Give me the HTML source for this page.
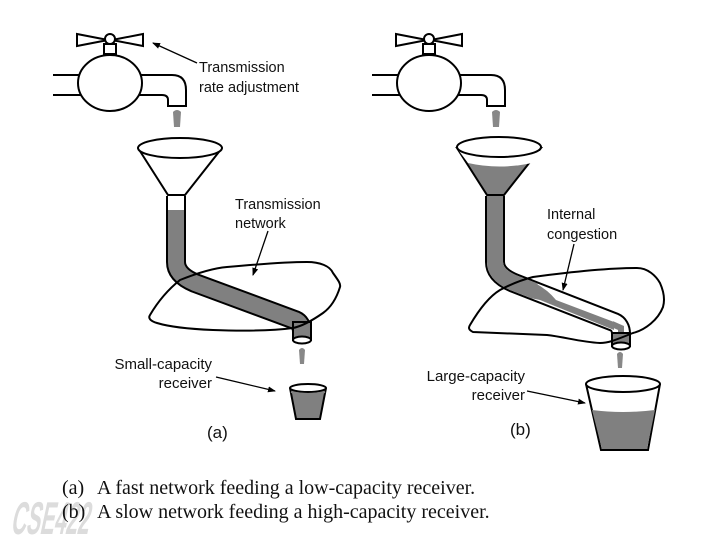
<!DOCTYPE html>
<html><head><meta charset="utf-8"><style>
html,body{margin:0;padding:0;background:#fff;}
svg{display:block;}
.l{font-family:"Liberation Sans",sans-serif;font-size:14.5px;fill:#111;}
.c{font-family:"Liberation Serif",serif;font-size:20px;fill:#111;}
</style></head><body>
<svg width="720" height="540" viewBox="0 0 720 540" xmlns="http://www.w3.org/2000/svg">
<defs>
<marker id="ah" markerWidth="8" markerHeight="8" refX="7" refY="4" orient="auto" markerUnits="userSpaceOnUse"><path d="M0,1 L8,4 L0,7 z" fill="#000"/></marker>
<g id="faucet" stroke="#000" stroke-width="2" fill="#fff">
<path d="M77,34 L77,46 L108,40 Z M143,34 L143,46 L112,40 Z"/>
<rect x="104" y="44" width="12" height="10"/>
<circle cx="110" cy="39" r="5"/>
<path d="M53,75 L90,75 M53,95 L90,95 M130,75 L172,75 Q186,75 186,90 L186,106 L168,106 L168,100 Q168,95 162,95 L130,95" fill="none"/>
<ellipse cx="110" cy="83" rx="32" ry="28"/>
<path d="M173,112 Q177,108 181,112 L180,127 L174,127 Z" fill="#888" stroke="none"/>
</g>
</defs>

<!-- LEFT -->
<use href="#faucet"/>
<path d="M176,196 L176,262 Q176,275 195,283 L295,320 Q302,323 302,332" fill="none" stroke="#000" stroke-width="20"/>
<path d="M176,196 L176,262 Q176,275 195,283 L295,320 Q302,323 302,332" fill="none" stroke="#808080" stroke-width="16"/>
<path d="M176,193 L176,210" stroke="#fff" stroke-width="16"/>
<rect x="293" y="322" width="18" height="18" fill="#808080" stroke="#000" stroke-width="2"/>
<ellipse cx="302" cy="340" rx="9" ry="3.5" fill="#fff" stroke="#000" stroke-width="2"/>
<path d="M138,148 L168,195 L185,195 L222,148" fill="#fff" stroke="#000" stroke-width="2"/>
<ellipse cx="180" cy="148" rx="42" ry="10" fill="#fff" stroke="#000" stroke-width="2"/>
<path d="M150,315 C160,298 170,288 180,280 C200,272 215,268 227,267 C260,264 290,262 307,262 C320,262 330,266 333,273 C338,280 341,284 340,287 C336,300 330,308 323,313 C313,320 303,326 293,328 C270,331 240,331 213,330 C190,329 170,327 157,323 C150,321 148,318 150,315 Z" fill="none" stroke="#000" stroke-width="2"/>
<path d="M299,350 Q302,346 305,350 L304,364 L300,364 Z" fill="#888"/>
<path d="M290,388 L296,419 L320,419 L326,388" fill="#808080" stroke="#000" stroke-width="2"/>
<ellipse cx="308" cy="388" rx="18" ry="4" fill="#fff" stroke="#000" stroke-width="2"/>
<path d="M291,392 Q308,396 325,392" fill="none" stroke="#808080" stroke-width="2"/>
<text class="l" x="199" y="72">Transmission</text>
<text class="l" x="199" y="92">rate adjustment</text>
<line x1="197" y1="63" x2="153" y2="43" stroke="#000" stroke-width="1.3" marker-end="url(#ah)"/>
<text class="l" x="235" y="209">Transmission</text>
<text class="l" x="235" y="228">network</text>
<line x1="268" y1="231" x2="253" y2="275" stroke="#000" stroke-width="1.3" marker-end="url(#ah)"/>
<text class="l" x="212" y="369" text-anchor="end" style="font-size:15px">Small-capacity</text>
<text class="l" x="212" y="388" text-anchor="end" style="font-size:15px">receiver</text>
<line x1="216" y1="377" x2="275" y2="391" stroke="#000" stroke-width="1.3" marker-end="url(#ah)"/>
<text class="l" x="207" y="438" style="font-size:17px">(a)</text>

<!-- RIGHT -->
<use href="#faucet" transform="translate(319,0)"/>
<path d="M495,196 L495,262 Q495,275 514,283 L614,322 Q621,325 621,334" fill="none" stroke="#000" stroke-width="20"/>
<path d="M495,196 L495,262 Q495,275 514,283 L614,322 Q621,325 621,334" fill="none" stroke="#fff" stroke-width="16"/>
<path d="M495,196 L495,262 Q495,275 514,283 L535,291" fill="none" stroke="#808080" stroke-width="16"/>
<path d="M535,283 Q548,290 556,300 L614,322 L614,330 L540,300 L530,298 Z" fill="#808080"/>
<path d="M612,324 L621,328 L621,334" fill="none" stroke="#808080" stroke-width="6"/>
<rect x="612" y="333" width="18" height="13" fill="#808080" stroke="#000" stroke-width="2"/>
<ellipse cx="621" cy="346" rx="9" ry="3.5" fill="#fff" stroke="#000" stroke-width="2"/>
<path d="M457,148 L487,195 L504,195 L541,148 Z" fill="#808080" stroke="#000" stroke-width="2"/>
<path d="M459,151 L541,151 L532,163 Q499,170 468,163 Z" fill="#fff"/>
<ellipse cx="499" cy="147" rx="42" ry="10" fill="#fff" stroke="#000" stroke-width="2"/>
<path d="M470,325 C480,308 490,296 500,290 C515,282 525,279 533,277 C570,272 610,268 637,268 C648,268 656,276 660,283 C664,292 665,300 663,307 C658,320 645,330 633,333 C620,338 610,343 600,343 C580,342 565,337 547,335 C520,334 495,333 473,332 C469,330 468,328 470,325 Z" fill="none" stroke="#000" stroke-width="2"/>
<path d="M617,354 Q620,350 623,354 L622,368 L618,368 Z" fill="#888"/>
<path d="M586,384 L601,450 L648,450 L660,384" fill="#fff" stroke="#000" stroke-width="2"/>
<path d="M592,410 Q623,414 655,410 L647,449 L602,449 Z" fill="#808080"/>
<ellipse cx="623" cy="384" rx="37" ry="8" fill="#fff" stroke="#000" stroke-width="2"/>
<text class="l" x="547" y="219">Internal</text>
<text class="l" x="547" y="239">congestion</text>
<line x1="574" y1="244" x2="563" y2="290" stroke="#000" stroke-width="1.3" marker-end="url(#ah)"/>
<text class="l" x="525" y="381" text-anchor="end" style="font-size:15px">Large-capacity</text>
<text class="l" x="525" y="400" text-anchor="end" style="font-size:15px">receiver</text>
<line x1="527" y1="391" x2="585" y2="403" stroke="#000" stroke-width="1.3" marker-end="url(#ah)"/>
<text class="l" x="510" y="435" style="font-size:17px">(b)</text>

<!-- caption -->
<text x="0" y="0" transform="translate(10,534) skewX(-12)" style="font-family:'Liberation Sans',sans-serif;font-weight:bold;font-size:46px;fill:#dcdcdc" textLength="78" lengthAdjust="spacingAndGlyphs">CSE422</text>
<text class="c" x="62" y="494">(a)</text>
<text class="c" x="97" y="494">A fast network feeding a low-capacity receiver.</text>
<text class="c" x="62" y="518">(b)</text>
<text class="c" x="97" y="518">A slow network feeding a high-capacity receiver.</text>
</svg>
</body></html>
